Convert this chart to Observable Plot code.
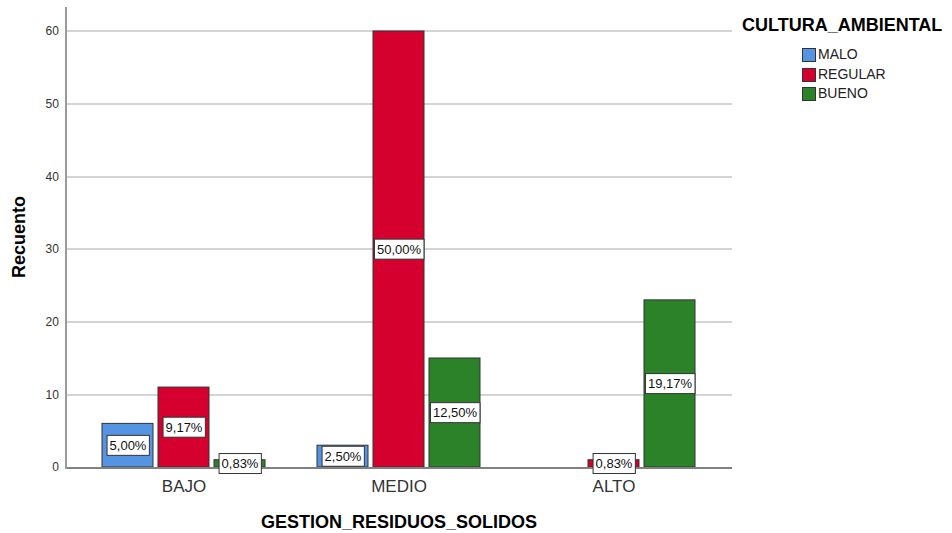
<!DOCTYPE html>
<html>
<head>
<meta charset="utf-8">
<script src="https://cdn.jsdelivr.net/npm/d3@7"></script>
<script src="https://cdn.jsdelivr.net/npm/@observablehq/plot@0.6"></script>
<style>
  html, body { margin: 0; padding: 0; background: #fff; }
  body { width: 952px; height: 533px; position: relative; overflow: hidden; font-family: Arial, "Liberation Sans", sans-serif; }
  #chart { position: absolute; left: 0; top: 0; }
  .ttl { position: absolute; font-weight: bold; font-size: 18px; color: #000; white-space: nowrap; }
  #ylab { left: 19px; top: 237px; transform: translate(-50%, -50%) rotate(-90deg); }
  #xlab { left: 399px; top: 512px; transform: translateX(-50%); }
  #legend { position: absolute; left: 742px; top: 14px; }
  #legend .title { font-weight: bold; font-size: 18px; color: #000; line-height: 22px; }
  #legend .item { position: relative; height: 19.5px; margin-left: 60px; font-size: 14px; color: #222; line-height: 19px; }
  #legend .sw { position: absolute; left: 0; top: 3px; width: 12px; height: 12px; border: 1px solid #333; }
  #legend .lbl { position: absolute; left: 16px; top: 0; }
</style>
</head>
<body>
<div id="chart"></div>
<div id="ylab" class="ttl">Recuento</div>
<div id="xlab" class="ttl">GESTION_RESIDUOS_SOLIDOS</div>
<div id="legend"></div>
<script>
// ---- data ----
const groups = ["BAJO", "MEDIO", "ALTO"];
const series = ["MALO", "REGULAR", "BUENO"];
const malo = [6, 3, 0];
const regular = [11, 60, 1];
const bueno = [1, 15, 23];
const yTicks = [0, 10, 20, 30, 40, 50, 60];
const colors = ["#5594e2", "#d6002f", "#2b8229"];
const legendTitle = "CULTURA_AMBIENTAL";

const valuesBySeries = {MALO: malo, REGULAR: regular, BUENO: bueno};
const rows = [];
groups.forEach((g, i) => series.forEach(s => rows.push({group: g, series: s, value: valuesBySeries[s][i]})));
const total = d3.sum(rows, d => d.value);
const nonZero = rows.filter(d => d.value > 0);
const pct = d => (d.value / total * 100).toFixed(2).replace(".", ",") + "%";

// facet bands touch each other; the outer gap is recovered with negative insets
const W = 952, mL = 65, mR = 220;
const fxPadOuter = 0.0494;
const fxStep = (W - mL - mR) / (groups.length + 2 * fxPadOuter);
const edge = fxPadOuter * fxStep;

const plot = Plot.plot({
  width: W,
  height: 533,
  marginLeft: mL,
  marginRight: mR,
  marginTop: 7,
  marginBottom: 66,
  style: {fontFamily: "Arial, 'Liberation Sans', sans-serif", background: "#fff"},
  fx: {domain: groups, paddingInner: 0, paddingOuter: fxPadOuter, label: null},
  x: {domain: series, paddingInner: 0.0965, paddingOuter: 0.436, axis: null},
  y: {domain: [0, 63.3], axis: null},
  color: {domain: series, range: colors},
  marks: [
    Plot.ruleY(yTicks.filter(t => t > 0), {y: d => d, insetLeft: -edge, insetRight: -edge, stroke: "#d4d4d4", strokeWidth: 2, shapeRendering: "crispEdges"}),
    Plot.axisY({ticks: yTicks, tickSize: 0, tickPadding: 7 + edge, fontSize: 12, color: "#333", label: null}),
    Plot.barY(nonZero, {fx: "group", x: "series", y: "value", fill: "series", stroke: "#333", strokeWidth: 1}),
    Plot.ruleY([0], {y: d => d, insetLeft: -edge, insetRight: -edge, stroke: "#808080", strokeWidth: 2, shapeRendering: "crispEdges"}),
    Plot.frame({anchor: "left", facetAnchor: "left", dx: -edge, stroke: "#9a9a9a", strokeWidth: 2, shapeRendering: "crispEdges"}),
    Plot.axisFx({anchor: "bottom", tickSize: 0, tickPadding: 12, fontSize: 17, color: "#333", label: null}),
    Plot.text(nonZero, {fx: "group", x: "series", y: d => d.value / 2, text: pct, fontSize: 13, fill: "#111", className: "pct"})
  ]
});
document.getElementById("chart").appendChild(plot);

// white boxes behind the percentage labels
document.querySelectorAll("g.pct text").forEach(t => {
  const b = t.getBBox();
  const r = document.createElementNS("http://www.w3.org/2000/svg", "rect");
  r.setAttribute("x", b.x - 2.5);
  r.setAttribute("y", b.y - 2.5);
  r.setAttribute("width", b.width + 5);
  r.setAttribute("height", b.height + 5);
  r.setAttribute("fill", "#fff");
  r.setAttribute("stroke", "#333");
  r.setAttribute("stroke-width", 1);
  const tr = t.getAttribute("transform");
  if (tr) r.setAttribute("transform", tr);
  t.parentNode.insertBefore(r, t);
});

// legend
const leg = document.getElementById("legend");
const title = document.createElement("div");
title.className = "title";
title.textContent = legendTitle;
leg.appendChild(title);
const spacer = document.createElement("div");
spacer.style.height = "9px";
leg.appendChild(spacer);
series.forEach((s, i) => {
  const it = document.createElement("div");
  it.className = "item";
  const sw = document.createElement("div");
  sw.className = "sw";
  sw.style.background = colors[i];
  const lb = document.createElement("div");
  lb.className = "lbl";
  lb.textContent = s;
  it.appendChild(sw); it.appendChild(lb);
  leg.appendChild(it);
});
</script>
</body>
</html>
